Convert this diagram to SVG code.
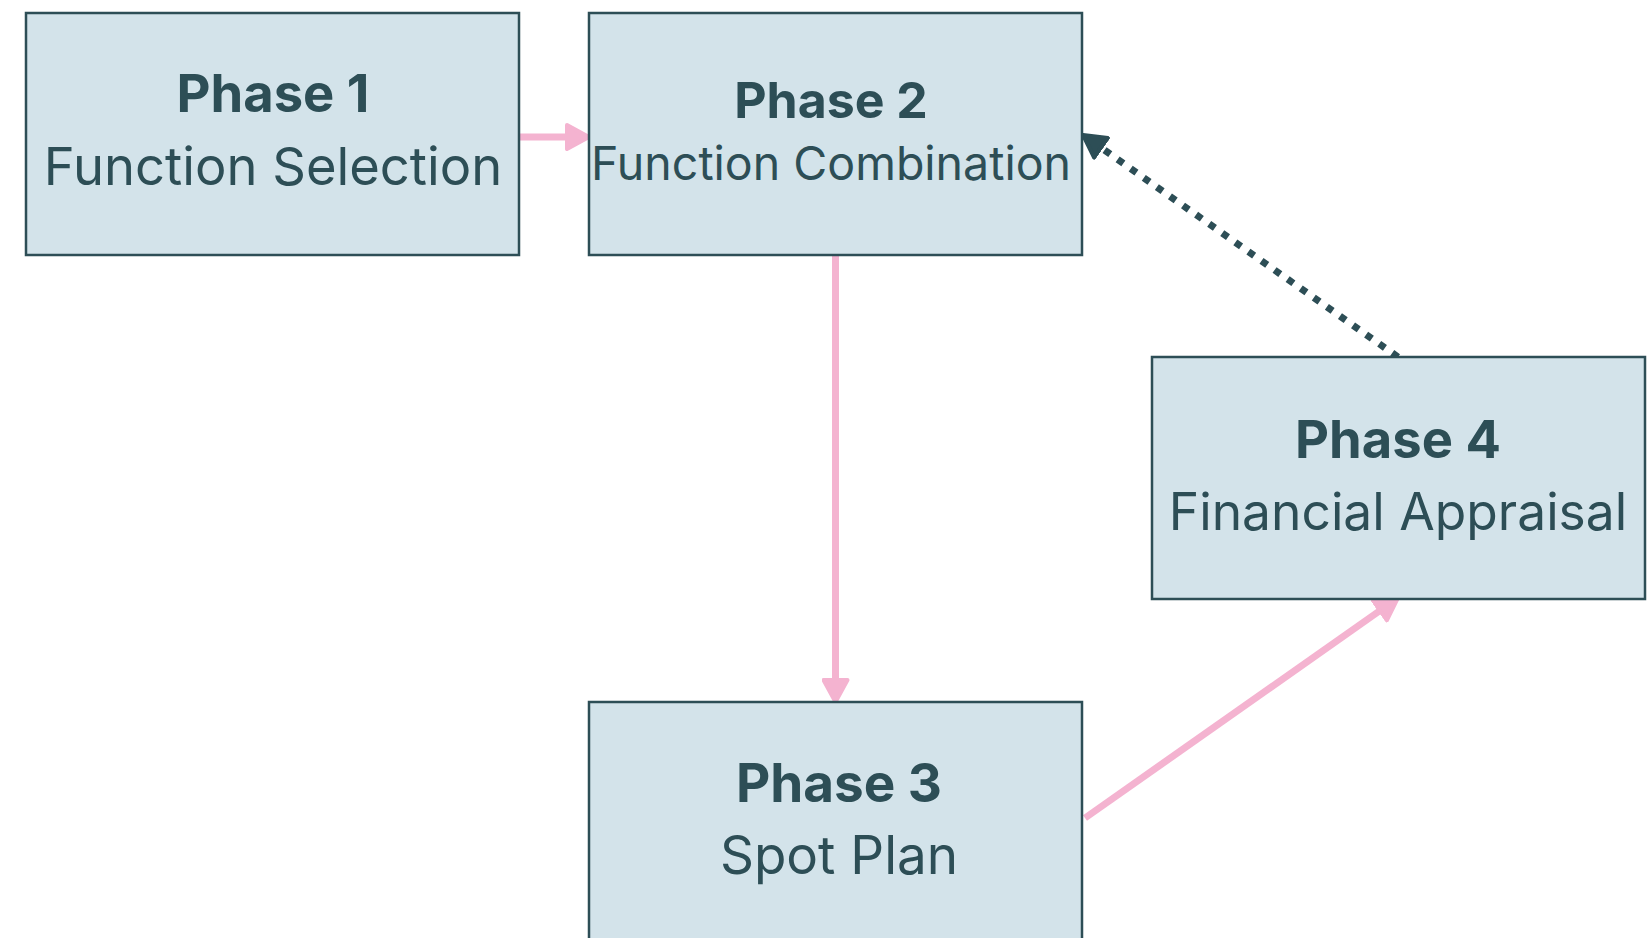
<svg xmlns="http://www.w3.org/2000/svg" width="1652" height="938" viewBox="0 0 1652 938">
  <style>
    .box { fill: #d3e3ea; stroke: #2d4e56; stroke-width: 2.5; }
    .title { font-family: Inter, "Liberation Sans", sans-serif; font-weight: 700; font-size: 52.5px; fill: #2d4e56; text-anchor: middle; }
    .sub { font-family: Inter, "Liberation Sans", sans-serif; font-weight: 400; font-size: 52.5px; fill: #2d4e56; text-anchor: middle; }
    .flow { fill: none; stroke: #f4b3d0; stroke-width: 7; }
    .back { fill: none; stroke: #2d4e56; stroke-width: 7; stroke-dasharray: 7 9; }
  </style>
  <defs>
    <marker id="head-pink" viewBox="0 0 26 28" markerWidth="26" markerHeight="28" refX="10" refY="14" orient="auto" markerUnits="userSpaceOnUse">
      <path d="M2,2 L24,14 L2,26 Z" fill="#f4b3d0" stroke="#f4b3d0" stroke-width="4" stroke-linejoin="round"/>
    </marker>
    <marker id="head-dark" viewBox="0 0 26 28" markerWidth="26" markerHeight="28" refX="10" refY="14" orient="auto" markerUnits="userSpaceOnUse">
      <path d="M2,2 L24,14 L2,26 Z" fill="#2d4e56" stroke="#2d4e56" stroke-width="4" stroke-linejoin="round"/>
    </marker>
  </defs>
  <rect width="1652" height="938" fill="#ffffff"/>

  <g id="connectors">
    <!-- Phase 1 to Phase 2 -->
    <path class="flow" d="M519,137 L575,137" marker-end="url(#head-pink)"/>
    <!-- Phase 2 to Phase 3 -->
    <path class="flow" d="M835.5,255 L835.5,688" marker-end="url(#head-pink)"/>
    <!-- Phase 3 to Phase 4 -->
    <path class="flow" d="M1085,818 L1386.5,606" marker-end="url(#head-pink)"/>
    <!-- Phase 4 back to Phase 2 -->
    <path class="back" d="M1398,357 L1094.5,143.1" marker-end="url(#head-dark)"/>
  </g>

  <g id="phase1">
    <rect class="box" x="26" y="13" width="493" height="242"/>
    <text class="title" x="273" y="112" font-size="53">Phase 1</text>
    <text class="sub" x="273" y="185" font-size="53">Function Selection</text>
  </g>

  <g id="phase2">
    <rect class="box" x="589" y="13" width="493" height="242"/>
    <text class="title" x="831" y="118" style="font-size:50px">Phase 2</text>
    <text class="sub" x="831" y="180" style="font-size:46.5px">Function Combination</text>
  </g>

  <g id="phase3">
    <rect class="box" x="589" y="702" width="493" height="242"/>
    <text class="title" x="839" y="802" style="font-size:53px">Phase 3</text>
    <text class="sub" x="839" y="874" style="font-size:53px">Spot Plan</text>
  </g>

  <g id="phase4">
    <rect class="box" x="1152" y="357" width="493" height="242"/>
    <text class="title" x="1398" y="458" style="font-size:52.5px">Phase 4</text>
    <text class="sub" x="1398" y="530" style="font-size:51.5px">Financial Appraisal</text>
  </g>
</svg>
